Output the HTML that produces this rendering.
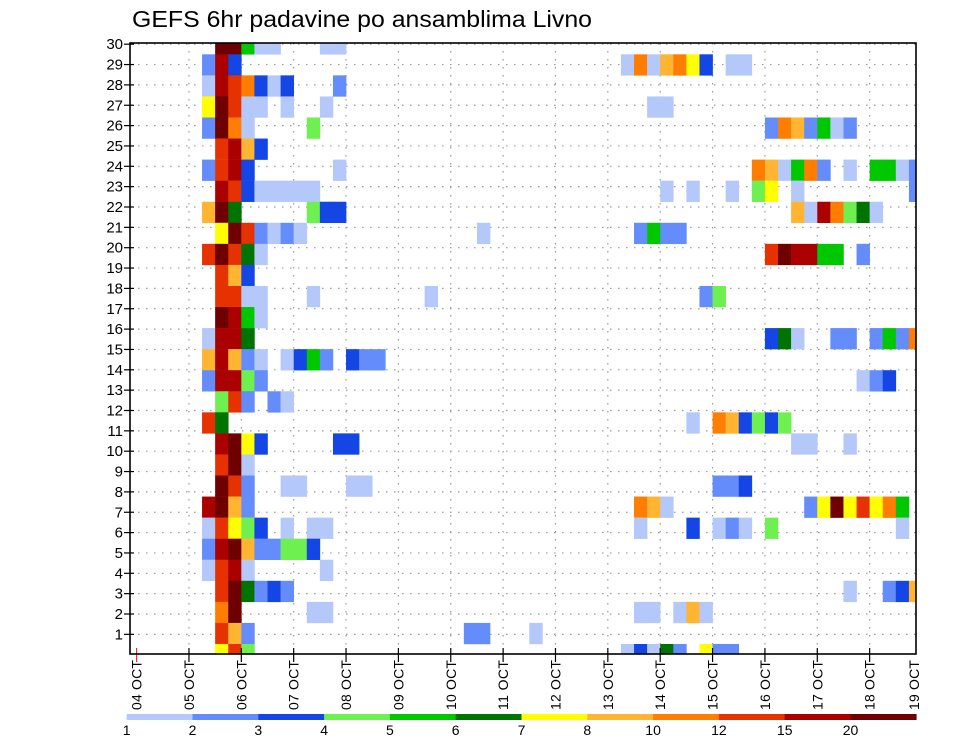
<!DOCTYPE html>
<html><head><meta charset="utf-8"><style>
html,body{margin:0;padding:0;background:#fff;}
svg{display:block;font-family:"Liberation Sans",sans-serif;}
</style></head><body>
<svg id="chart" width="960" height="742" viewBox="0 0 960 742" xmlns="http://www.w3.org/2000/svg">
<defs><clipPath id="plotclip"><rect x="130" y="43" width="786" height="611"/></clipPath></defs>
<rect x="0" y="0" width="960" height="742" fill="#fff"/>
<text x="132" y="27" font-size="23" textLength="460" lengthAdjust="spacingAndGlyphs" fill="#000">GEFS 6hr padavine po ansamblima Livno</text>
<g id="grid"></g>
<g id="cells" clip-path="url(#plotclip)"></g>
<g id="axes"></g>
<rect x="130" y="43" width="786" height="611" fill="none" stroke="#000" stroke-width="1.6"/>
<g id="cbar"></g>
</svg>
<script>
const levels = [1, 2, 3, 4, 5, 6, 7, 8, 10, 12, 15, 20];
const levelColors = ["#b4c8fa","#648cfa","#1446e6","#6ef050","#00c800","#007300","#ffff00","#ffb432","#ff7d00","#e63200","#aa0000","#6e0000"];
const dayLabels = ["04 OCT","05 OCT","06 OCT","07 OCT","08 OCT","09 OCT","10 OCT","11 OCT","12 OCT","13 OCT","14 OCT","15 OCT","16 OCT","17 OCT","18 OCT","19 OCT"];
const yTicks = [1,2,3,4,5,6,7,8,9,10,11,12,13,14,15,16,17,18,19,20,21,22,23,24,25,26,27,28,29,30];
const members = [30,29,28,27,26,25,24,23,22,21,20,19,18,17,16,15,14,13,12,11,10,9,8,7,6,5,4,3,2,1];
// step:value pairs (step = 6-hour index from 04 OCT 00Z), one string per member (top to bottom)
const precip = [
"6:20 7:20 8:5 9:1 10:1 14:1 15:1",
"5:2 6:15 7:3 37:1 38:10 39:1 40:8 41:10 42:7 43:3 45:1 46:1",
"5:1 6:15 7:12 8:10 9:3 10:1 11:3 15:2",
"5:7 6:20 7:12 8:1 9:1 11:1 14:1 39:1 40:1",
"5:2 6:20 7:10 8:1 13:4 48:2 49:10 50:8 51:2 52:5 53:1 54:2",
"6:12 7:15 8:8 9:3",
"5:2 6:12 7:15 8:3 15:1 47:10 48:8 49:1 50:5 51:10 52:2 54:1 56:5 57:5 58:1 59:2",
"6:15 7:12 8:3 9:1 10:1 11:1 12:1 13:1 40:1 42:1 45:1 47:4 48:7 50:1 59:2",
"5:8 6:20 7:6 13:4 14:3 15:3 50:8 51:1 52:15 53:10 54:4 55:6 56:1",
"6:7 7:20 8:12 9:2 10:1 11:2 12:1 26:1 38:2 39:5 40:2 41:2",
"5:12 6:20 7:12 8:6 9:1 48:12 49:20 50:15 51:15 52:5 53:5 55:2",
"6:12 7:8 8:3",
"6:12 7:12 8:1 9:1 13:1 22:1 43:2 44:4",
"6:20 7:15 8:5 9:1",
"5:1 6:15 7:15 8:6 48:3 49:6 50:1 53:2 54:2 56:2 57:5 58:2 59:10",
"5:8 6:15 7:8 8:2 9:1 11:1 12:3 13:5 14:2 16:3 17:2 18:2",
"5:2 6:15 7:15 8:4 9:2 55:1 56:2 57:3",
"6:4 7:12 8:2 10:2 11:1",
"5:12 6:6 42:1 44:10 45:8 46:3 47:4 48:3 49:4",
"6:15 7:20 8:7 9:3 15:3 16:3 50:1 51:1 54:1",
"6:12 7:20 8:1",
"6:20 7:12 8:2 11:1 12:1 16:1 17:1 44:2 45:2 46:3",
"5:15 6:20 7:8 8:2 38:10 39:8 40:1 51:2 52:7 53:20 54:7 55:12 56:7 57:10 58:5",
"5:1 6:12 7:7 8:4 9:3 11:1 13:1 14:1 38:1 42:3 44:1 45:2 46:1 48:4 58:1",
"5:2 6:15 7:20 8:8 9:2 10:2 11:4 12:4 13:3",
"5:1 6:12 7:15 8:1 14:1",
"6:12 7:20 8:6 9:2 10:3 11:2 54:1 57:2 58:3 59:8",
"6:10 7:20 13:1 14:1 38:1 39:1 41:1 42:8 43:1",
"6:12 7:8 8:2 25:2 26:2 30:1",
"6:7 7:12 8:4 37:1 38:3 39:1 40:6 41:2 43:7 44:2 45:2"
];

const NS = "http://www.w3.org/2000/svg";
function X(step){ return 136.6 + step*13.09; }
function Yaxis(v){ return 654.7 - v*20.35; }
function rowTop(m){ return 54.3 + (29-m)*21.06; }
function colorFor(v){ let c=null; for(let i=0;i<levels.length;i++){ if(v>=levels[i]) c=levelColors[i]; } return c; }
function mk(tag, attrs, parent){ const e=document.createElementNS(NS,tag); for(const k in attrs) e.setAttribute(k,attrs[k]); parent.appendChild(e); return e; }

const grid=document.getElementById('grid'), cells=document.getElementById('cells'), axes=document.getElementById('axes'), cbar=document.getElementById('cbar');

yTicks.forEach(v=>{
  const y=Yaxis(v);
  const l=mk('line',{x1:130,x2:916,y1:y,y2:y,stroke:'#999','stroke-width':1.2,'stroke-dasharray':'1.5,6.5'},grid);
  
  
});
dayLabels.forEach((d,i)=>{
  const x=i<15?X(i*4):916;
  if(i>0&&i<15){
    const l=mk('line',{x1:x,x2:x,y1:43,y2:654,stroke:'#999','stroke-width':1.2,'stroke-dasharray':'1.5,6.5'},grid);
    
    
  }
});

precip.forEach((row,ri)=>{
  const m=members[ri];
  row.trim().split(/\s+/).forEach(p=>{
    const [s,v]=p.split(':').map(Number);
    const col=colorFor(v); if(!col) return;
    const r=mk('rect',{x:X(s),y:rowTop(m),width:13.4,height:21.3,fill:col},cells);
    
    
  });
});

yTicks.forEach(v=>{
  const y=Yaxis(v);
  const t=mk('line',{x1:124,x2:134,y1:y,y2:y,stroke:'#000','stroke-width':1.2},axes);
  
  
  const tx=mk('text',{x:123,y:y+5,'font-size':15,'text-anchor':'end',fill:'#000'},axes);
  tx.textContent=String(v);
  
  
});
dayLabels.forEach((d,i)=>{
  const x=i<15?X(i*4):914;
  if(i<15){
    const t=mk('line',{x1:x,x2:x,y1:648,y2:662,stroke:i===0?'#d33':'#000','stroke-width':1.2},axes);
    
    
  }
  const tx=mk('text',{x:0,y:0,'font-size':14,'text-anchor':'end',fill:'#000',textLength:50,lengthAdjust:'spacing',transform:'translate('+(x+5)+',660) rotate(-90)'},axes);
  tx.textContent=d;
  
  
});

const cbX0=126.7, cbW=65.8;
levels.forEach((lv,i)=>{
  const r=mk('rect',{x:cbX0+i*cbW,y:714,width:cbW+0.3,height:6,fill:levelColors[i]},cbar);
  
  
  const t=mk('text',{x:cbX0+i*cbW,y:735,'font-size':14,'text-anchor':'middle',fill:'#000'},cbar);
  t.textContent=String(lv);
  
  
});
</script>
</body></html>
